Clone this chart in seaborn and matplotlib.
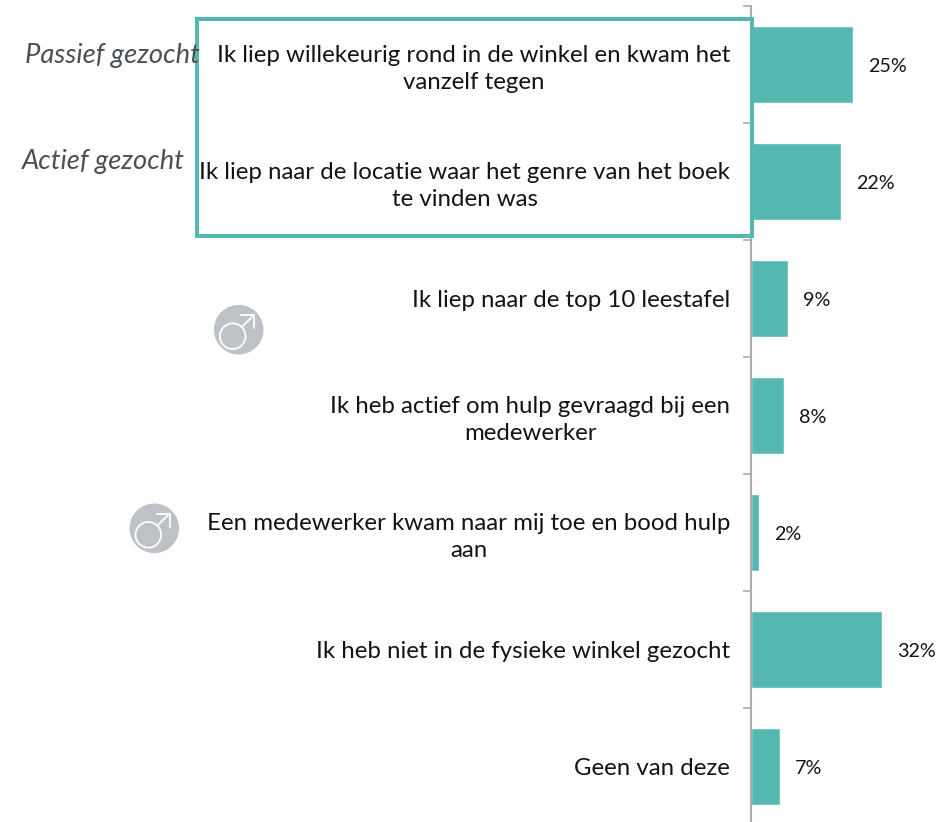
import matplotlib
matplotlib.use("Agg")
import matplotlib.pyplot as plt
from matplotlib.patches import Circle, Rectangle
import numpy as np
import pandas as pd
import seaborn as sns

answers = [
    "Ik liep willekeurig rond in de winkel en kwam het\nvanzelf tegen",
    "Ik liep naar de locatie waar het genre van het boek\nte vinden was",
    "Ik liep naar de top 10 leestafel",
    "Ik heb actief om hulp gevraagd bij een\nmedewerker",
    "Een medewerker kwam naar mij toe en bood hulp\naan",
    "Ik heb niet in de fysieke winkel gezocht",
    "Geen van deze",
]
shares = [25, 22, 9, 8, 2, 32, 7]
group_names = ["Passief gezocht", "Actief gezocht"]

TEAL = "#55B8B0"
AXIS_GREY = "#A9ACB1"
BADGE_GREY = "#BEC2C7"
W, H = 941, 822

sns.set_theme(style="white")
plt.rcParams["font.family"] = ["Lato", "DejaVu Sans"]

fig = plt.figure(figsize=(W / 100, H / 100), dpi=100)
left, right, top, row = 751, 941, 5.8, 117
ax = fig.add_axes([left / W, 1 - (top + row * len(shares)) / H,
                   (right - left) / W, row * len(shares) / H])

df = pd.DataFrame({"answer": answers, "share": shares})
sns.barplot(data=df, y="answer", x="share", color=TEAL, saturation=1,
            width=0.655, ax=ax, orient="h")
ax.set_xlim(0, (right - left) / 4.08)
ax.set_ylim(len(shares) - 0.5, -0.5)
ax.set_xlabel("")
ax.set_ylabel("")
ax.xaxis.set_visible(False)

for name in ("top", "right", "bottom"):
    ax.spines[name].set_visible(False)
ax.spines["left"].set_color(AXIS_GREY)
ax.spines["left"].set_linewidth(1.5)

# Labels sit at the bar centres, tick marks on the row boundaries.
ax.set_yticks(np.arange(len(shares)))
ax.set_yticklabels(answers, fontsize=17.3, color="#141414", multialignment="center",
                   linespacing=1.36)
ax.tick_params(axis="y", which="major", length=0, pad=15)
ax.set_yticks(np.arange(len(shares) + 1) - 0.5, minor=True)
ax.tick_params(axis="y", which="minor", left=True, length=6, width=1.2, color=AXIS_GREY)

value_labels = ax.bar_label(ax.containers[0], labels=[f"{v}%" for v in shares], padding=11,
                            fontsize=14.2, color="#141414")
for label in value_labels:
    label.xyann = (11, -1.5)

# Overlay in pixel coordinates for the highlight frame, side notes and badges.
over = fig.add_axes([0, 0, 1, 1], zorder=5)
over.set_xlim(0, W)
over.set_ylim(H, 0)
over.axis("off")
over.patch.set_alpha(0)

over.add_patch(Rectangle((196.8, 18.7), 555, 217, fill=False, edgecolor=TEAL, linewidth=2.9))

for name, x, y in zip(group_names, (25, 22), (56, 161.5)):
    over.text(x, y, name, fontsize=19.7, style="italic", color="#4B5056",
              ha="left", va="center")


def male_badge(cx, cy):
    white = dict(color="white", linewidth=1.3, solid_capstyle="round")
    over.add_patch(Circle((cx, cy), 24.8, facecolor=BADGE_GREY, edgecolor="none"))
    over.add_patch(Circle((cx - 6, cy + 6.5), 12.8, fill=False, edgecolor="white", linewidth=1.3))
    tip = (cx + 15.3, cy - 14.7)
    over.plot([cx + 3, tip[0]], [cy - 2.7, tip[1]], **white)
    over.plot([tip[0] - 13, tip[0], tip[0]], [tip[1], tip[1], tip[1] + 13], **white)


male_badge(238.7, 329.7)
male_badge(154.3, 528.3)

fig.savefig("out.png", dpi=100, facecolor="white")
